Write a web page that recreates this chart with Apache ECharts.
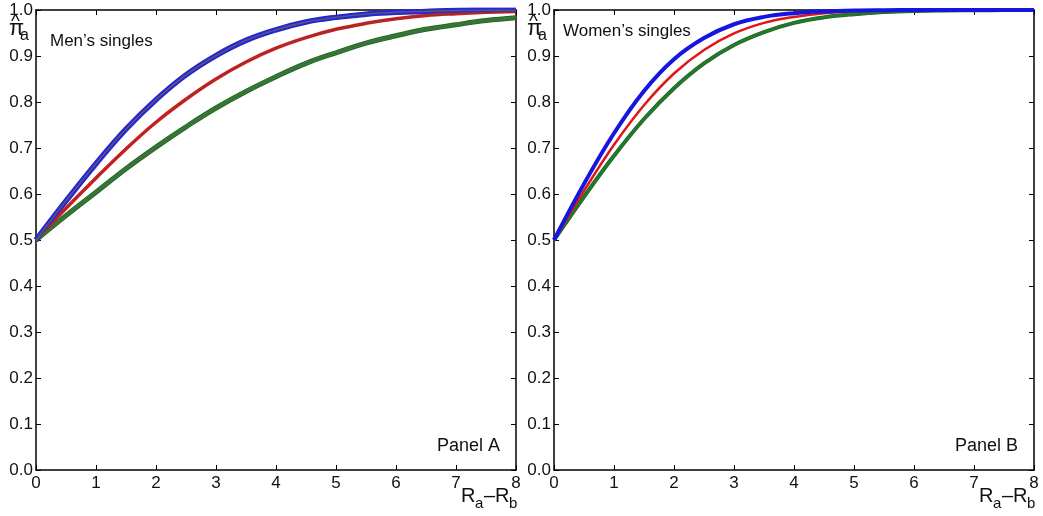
<!DOCTYPE html>
<html><head><meta charset="utf-8">
<script src="https://cdn.jsdelivr.net/npm/echarts@6/dist/echarts.min.js"></script>
<style>html,body{margin:0;padding:0;background:#fff}#c{width:1043px;height:516px}</style>
</head><body><div id="c"></div>
<script>
const xs = [0,0.5,1,1.5,2,2.5,3,3.5,4,4.5,5,5.5,6,6.5,7,7.5,8];
const yTicks = ['0.0','0.1','0.2','0.3','0.4','0.5','0.6','0.7','0.8','0.9','1.0'];
const xTicks = ['0','1','2','3','4','5','6','7','8'];
// Panel A – Men's singles
const menBlue  = [0.5,0.585,0.666,0.741,0.805,0.859,0.901,0.934,0.957,0.974,0.984,0.991,0.995,0.997,0.999,0.9993,0.9997];
const menRed   = [0.5,0.569,0.635,0.698,0.756,0.806,0.850,0.887,0.917,0.940,0.958,0.971,0.981,0.988,0.992,0.995,0.997];
const menGreen = [0.5,0.553,0.604,0.655,0.702,0.746,0.787,0.823,0.855,0.884,0.907,0.928,0.944,0.958,0.968,0.977,0.983];
// Panel B – Women's singles
const womBlue  = [0.5,0.622,0.732,0.824,0.893,0.939,0.969,0.985,0.993,0.997,0.999,0.9996,0.9998,0.9999,1,1,1];
const womRed   = [0.5,0.607,0.707,0.793,0.862,0.913,0.949,0.972,0.985,0.993,0.997,0.9986,0.9994,0.9997,0.9999,1,1];
const womGreen = [0.5,0.594,0.683,0.763,0.830,0.884,0.924,0.952,0.972,0.984,0.991,0.9956,0.998,0.999,0.9995,0.9998,0.9999];

const pair = arr => xs.map((x,i)=>[x,arr[i]]);
const FONT = 'Liberation Sans, Arial, sans-serif';
const TXT = '#111';

const grids = [
  {left:36, top:10, width:480, height:460},
  {left:554, top:10, width:480, height:460}
];
const xAxis = [], yAxis = [];
grids.forEach((g,i)=>{
  xAxis.push({type:'value', gridIndex:i, min:0, max:8, interval:1, position:'bottom',
    axisLine:{show:true, onZero:false, lineStyle:{color:'#000', width:1.5}},
    axisTick:{show:true, inside:true, length:5, lineStyle:{color:'#000'}},
    axisLabel:{margin:5, color:TXT, fontSize:17, fontFamily:FONT, formatter:v=>xTicks[Math.round(v)]},
    splitLine:{show:false}});
  xAxis.push({type:'value', gridIndex:i, min:0, max:8, interval:1, position:'top',
    axisLine:{show:true, onZero:false, lineStyle:{color:'#000', width:1.5}},
    axisTick:{show:true, inside:true, length:5, lineStyle:{color:'#000'}},
    axisLabel:{show:false}, splitLine:{show:false}});
  yAxis.push({type:'value', gridIndex:i, min:0, max:1, interval:0.1, position:'left',
    axisLine:{show:true, onZero:false, lineStyle:{color:'#000', width:1.5}},
    axisTick:{show:true, inside:true, length:5, lineStyle:{color:'#000'}},
    axisLabel:{margin:3, color:TXT, fontSize:17, fontFamily:FONT, formatter:v=>yTicks[Math.round(v*10)]},
    splitLine:{show:false}});
  yAxis.push({type:'value', gridIndex:i, min:0, max:1, interval:0.1, position:'right',
    axisLine:{show:true, onZero:false, lineStyle:{color:'#000', width:1.5}},
    axisTick:{show:true, inside:true, length:5, lineStyle:{color:'#000'}},
    axisLabel:{show:false}, splitLine:{show:false}});
});

function line(data, gi, color, width, z){
  return {type:'line', xAxisIndex:gi*2, yAxisIndex:gi*2, data:pair(data), smooth:0.4,
    showSymbol:false, symbol:'none', z:z, silent:true,
    lineStyle:{color:color, width:width}};
}
const series = [
  line(menGreen,0,'#2a5a2a',5,2), line(menGreen,0,'#1e8a1e',3.5,3), line(menGreen,0,'#5a5a5a',1.2,4),
  line(menRed,0,'#e01515',3.5,3), line(menRed,0,'#5a4a4a',1,4),
  line(menBlue,0,'#2a2ab0',5.5,2), line(menBlue,0,'#2525e6',4.2,3), line(menBlue,0,'#5a5a6a',1.4,4),
  line(womGreen,1,'#2a5a2a',4,2), line(womGreen,1,'#1f7a2a',3,3),
  line(womRed,1,'#e01515',2.5,3),
  line(womBlue,1,'#1515e0',4,3)
];

function piLabel(x){
  return [
    {type:'text', left:x+1, top:12, style:{text:'^', font:'19px '+FONT, fill:TXT}},
    {type:'text', left:x-1, top:18, style:{text:'π', font:'22px '+FONT, fill:TXT}},
    {type:'text', left:x+10, top:28, style:{text:'a', font:'16px '+FONT, fill:TXT}}
  ];
}
function rLabel(x){
  return [
    {type:'text', left:x, top:486, style:{text:'R', font:'20px '+FONT, fill:TXT}},
    {type:'text', left:x+14, top:496, style:{text:'a', font:'15px '+FONT, fill:TXT}},
    {type:'text', left:x+23, top:486, style:{text:'–R', font:'20px '+FONT, fill:TXT}},
    {type:'text', left:x+48, top:496, style:{text:'b', font:'15px '+FONT, fill:TXT}}
  ];
}
const graphic = [
  ...piLabel(10), ...piLabel(528),
  ...rLabel(461), ...rLabel(979),
  {type:'text', left:50, top:33, style:{text:'Men’s singles', font:'17px '+FONT, fill:TXT}},
  {type:'text', left:563, top:23, style:{text:'Women’s singles', font:'17px '+FONT, fill:TXT}},
  {type:'text', left:437, top:437, style:{text:'Panel A', font:'18px '+FONT, fill:TXT}},
  {type:'text', left:955, top:437, style:{text:'Panel B', font:'18px '+FONT, fill:TXT}}
];

const chart = echarts.init(document.getElementById('c'), null, {renderer:'canvas'});
chart.setOption({animation:false, backgroundColor:'#fff', grid:grids, xAxis, yAxis, series, graphic});
</script></body></html>
